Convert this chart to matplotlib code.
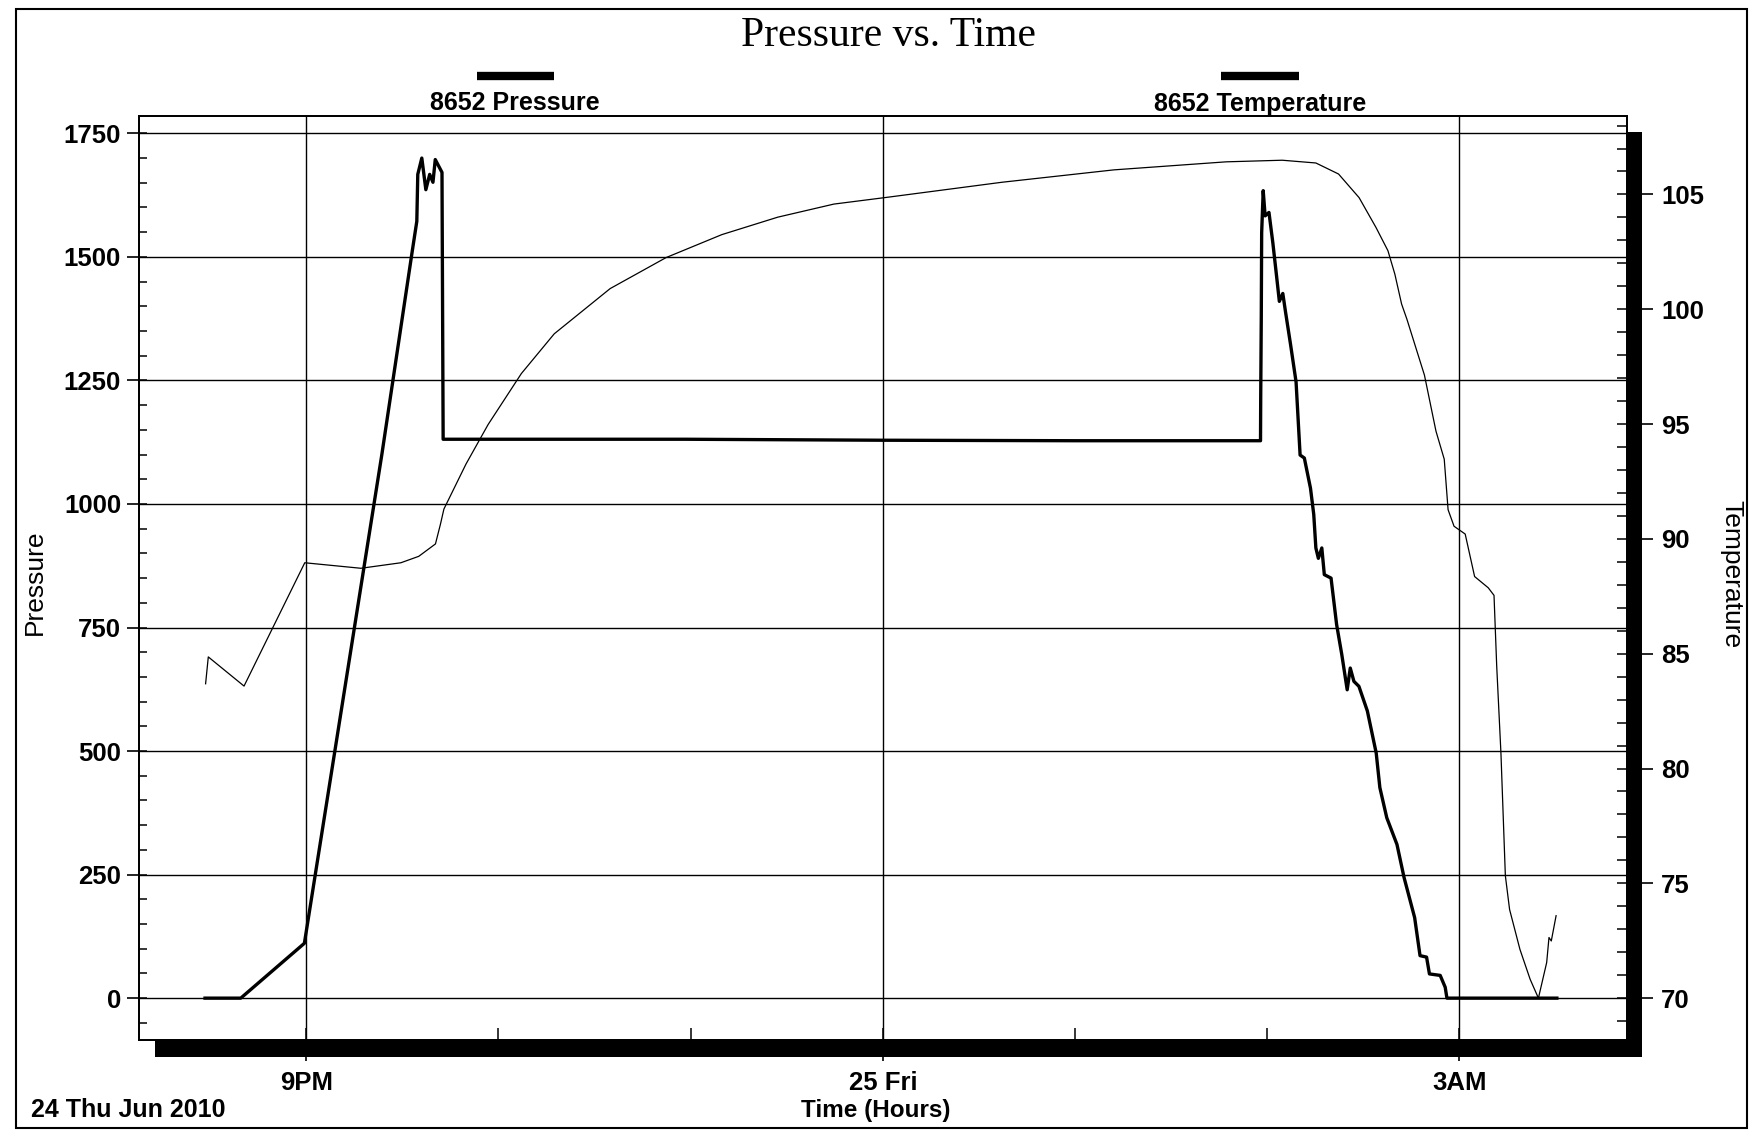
import matplotlib
matplotlib.use("Agg")
import matplotlib.pyplot as plt
from matplotlib.patches import Rectangle
from matplotlib.lines import Line2D
from matplotlib.ticker import MultipleLocator, FixedLocator

plt.rcParams['font.family'] = ['Liberation Sans', 'DejaVu Sans']

## ---------------------------- logger data ---------------------------- ##
# time is in hours counted from 00:00 on Thu 24 Jun 2010
pressure_hours = [20.473, 20.659, 20.990, 21.393, 21.551, 21.575, 21.580, 21.601,
                  21.622, 21.642, 21.659, 21.671, 21.706, 21.712, 22.970, 24.000,
                  25.000, 25.883, 25.965, 25.966, 25.969, 25.971, 25.979, 25.989,
                  26.009, 26.029, 26.048, 26.063, 26.081, 26.095, 26.122, 26.150,
                  26.171, 26.193, 26.225, 26.242, 26.253, 26.266, 26.284, 26.297,
                  26.332, 26.361, 26.388, 26.416, 26.432, 26.451, 26.477, 26.521,
                  26.567, 26.586, 26.622, 26.675, 26.712, 26.767, 26.795, 26.829,
                  26.844, 26.900, 26.926, 26.935, 27.507]
pressure = [0, 0, 111, 1100, 1511, 1572, 1667, 1700,
            1636, 1667, 1651, 1697, 1671, 1131, 1131, 1129,
            1128, 1128, 1128, 1213, 1380, 1549, 1634, 1583,
            1590, 1529, 1463, 1410, 1426, 1389, 1321, 1247,
            1099, 1093, 1032, 979, 911, 890, 911, 857,
            850, 756, 695, 624, 668, 641, 631, 581,
            496, 426, 365, 311, 244, 163, 86, 83,
            49, 46, 22, 0, 0]

temp_hours = [20.476, 20.490, 20.676, 20.992, 21.284, 21.492, 21.585, 21.672,
              21.698, 21.716, 21.831, 21.946, 22.119, 22.290, 22.581, 22.872,
              23.162, 23.453, 23.745, 24.036, 24.619, 25.202, 25.786, 26.078,
              26.253, 26.371, 26.478, 26.566, 26.628, 26.664, 26.699, 26.727,
              26.818, 26.878, 26.921, 26.941, 26.972, 27.030, 27.079, 27.150,
              27.180, 27.194, 27.216, 27.239, 27.261, 27.315, 27.368, 27.411,
              27.454, 27.466, 27.478, 27.503]
temperature = [83.69, 84.86, 83.59, 88.96, 88.72, 88.96, 89.24, 89.78,
               90.64, 91.30, 93.26, 94.98, 97.20, 98.93, 100.90, 102.25,
               103.25, 104.01, 104.58, 104.89, 105.53, 106.07, 106.42, 106.49,
               106.37, 105.89, 104.86, 103.56, 102.55, 101.53, 100.23, 99.56,
               97.13, 94.69, 93.47, 91.27, 90.55, 90.21, 88.36, 87.87,
               87.54, 84.46, 80.67, 75.33, 73.86, 72.12, 70.82, 70.00,
               71.55, 72.64, 72.49, 73.59]

time_ticks = [21, 24, 27]
time_labels = ["9PM", "25 Fri", "3AM"]
pressure_ticks = [0, 250, 500, 750, 1000, 1250, 1500, 1750]
temp_ticks = [70, 75, 80, 85, 90, 95, 100, 105]

p_lim = (-85, 1786)
t_per_p = 0.02152          # temperature scale sits on the pressure grid, 70 at 0

## ------------------------------ figure ------------------------------ ##
W, H = 1568.0, 1016.0      # layout worked out on a 1568 x 1016 grid
fig = plt.figure(figsize=(17.59, 11.40), dpi=100)

left, right, top, bottom = 124, 1450, 103, 927
ax_rect = [left / W, 1 - bottom / H, (right - left) / W, (bottom - top) / H]
ax = fig.add_axes(ax_rect)
ax2 = ax.twinx()

# drop shadow behind the plot frame
fig.add_artist(Rectangle((ax_rect[0] + 14 / W, ax_rect[1] - 15 / H), ax_rect[2], ax_rect[3],
                         transform=fig.transFigure, facecolor="black",
                         edgecolor="none", zorder=-1))
# page border
fig.add_artist(Rectangle((14 / W, 1 - 1005 / H), (1557 - 14) / W, (1005 - 8) / H,
                         transform=fig.transFigure, fill=False, edgecolor="black",
                         linewidth=1.5))

ax.plot(pressure_hours, pressure, color="black", linewidth=2.4, zorder=3)
ax2.plot(temp_hours, temperature, color="black", linewidth=0.9, zorder=3)

ax.set_xlim(20.13, 27.87)
ax.set_ylim(*p_lim)
ax2.set_ylim(70 + t_per_p * p_lim[0], 70 + t_per_p * p_lim[1])

ax.xaxis.set_major_locator(FixedLocator(time_ticks))
ax.set_xticklabels(time_labels)
ax.xaxis.set_minor_locator(MultipleLocator(1))
ax.xaxis.remove_overlapping_locs = False
ax.set_yticks(pressure_ticks)
ax.yaxis.set_minor_locator(MultipleLocator(50))
ax.yaxis.remove_overlapping_locs = False
ax2.set_yticks(temp_ticks)
ax2.yaxis.set_minor_locator(MultipleLocator(1))
ax2.yaxis.remove_overlapping_locs = False

ax.grid(True, which="major", color="black", linewidth=1.0)

tick_font = dict(labelsize=18.5)
ax.tick_params(axis="y", which="major", direction="out", length=9, width=1.2, pad=4, **tick_font)
ax.tick_params(axis="y", which="minor", direction="in", length=6, width=1.1)
ax.tick_params(axis="x", which="major", direction="out", length=15, width=1.2, pad=7, **tick_font)
ax.tick_params(axis="x", which="minor", direction="in", length=9, width=1.1)
ax2.tick_params(axis="y", which="major", direction="out", length=19, width=1.2, pad=6, **tick_font)
ax2.tick_params(axis="y", which="minor", direction="in", length=7, width=1.1)
for lab in ax.get_xticklabels() + ax.get_yticklabels() + ax2.get_yticklabels():
    lab.set_fontweight("bold")

for a in (ax, ax2):
    for s in a.spines.values():
        s.set_linewidth(1.3)

## ---------------------------- text / keys ---------------------------- ##
fig.text(792 / W, 1 - 32 / H, "Pressure vs. Time", family="Liberation Serif",
         fontsize=30, ha="center", va="center")

fig.add_artist(Line2D([425 / W, 494 / W], [1 - 67.5 / H] * 2, transform=fig.transFigure,
                      color="black", linewidth=6, solid_capstyle="butt"))
fig.text(459 / W, 1 - 92 / H, "8652 Pressure", fontsize=18, fontweight="bold",
         ha="center", va="center")
fig.add_artist(Line2D([1088 / W, 1158 / W], [1 - 67.5 / H] * 2, transform=fig.transFigure,
                      color="black", linewidth=6, solid_capstyle="butt"))
fig.text(1123 / W, 1 - 93 / H, "8652 Temperature", fontsize=18, fontweight="bold",
         ha="center", va="center")

fig.text(31 / W, 1 - 519 / H, "Pressure", fontsize=19, rotation=90,
         ha="center", va="center")
fig.text(1543 / W, 1 - 512 / H, "Temperature", fontsize=19, rotation=270,
         ha="center", va="center")
fig.text(781 / W, 1 - 990 / H, "Time (Hours)", fontsize=17.5, fontweight="bold",
         ha="center", va="center")
fig.text(28 / W, 1 - 989 / H, "24 Thu Jun 2010", fontsize=18, fontweight="bold",
         ha="left", va="center")

fig.savefig("out.png", dpi=100)
